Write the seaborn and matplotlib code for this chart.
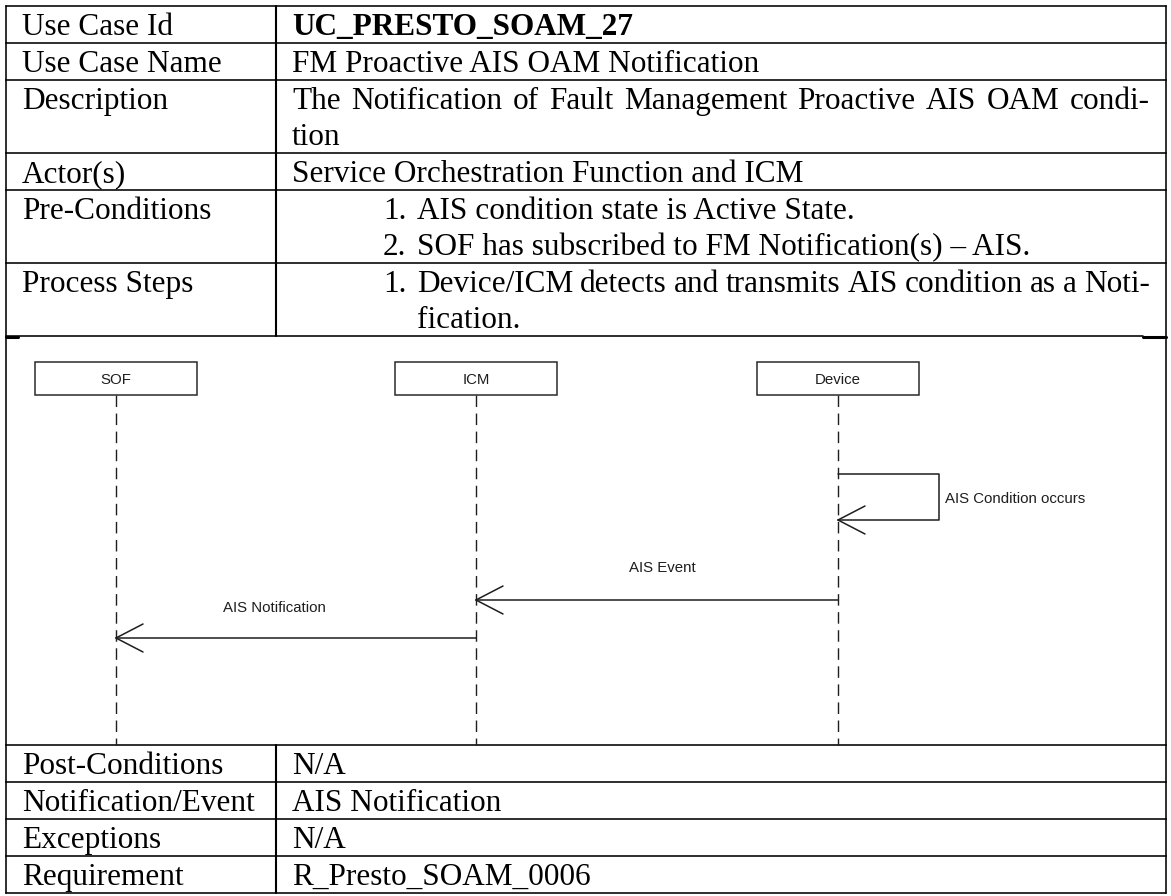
import matplotlib
matplotlib.use("Agg")
import matplotlib.pyplot as plt
import seaborn as sns
import pandas as pd

# ---------------- data ----------------
top_labels = ["Use Case Id", "Use Case Name", "Description", "Actor(s)",
              "Pre-Conditions", "Process Steps"]
use_case_id = "UC_PRESTO_SOAM_27"
use_case_name = "FM Proactive AIS OAM Notification"
description = ["The Notification of Fault Management Proactive AIS OAM condi-", "tion"]
actors = "Service Orchestration Function and ICM"
pre_conditions = ["AIS condition state is Active State.",
                  "SOF has subscribed to FM Notification(s) \u2013 AIS."]
process_steps = ["Device/ICM detects and transmits AIS condition as a Noti-", "fication."]

bottom_labels = ["Post-Conditions", "Notification/Event", "Exceptions", "Requirement"]
bottom_values = ["N/A", "AIS Notification", "N/A", "R_Presto_SOAM_0006"]

participants = ["SOF", "ICM", "Device"]
msg_from = ["Device", "Device", "ICM"]
msg_to = ["Device", "ICM", "SOF"]
msg_labels = ["AIS Condition occurs", "AIS Event", "AIS Notification"]

# ---------------- layout ----------------
W, H = 1171, 896
X_L, X_DIV, X_R = 6, 276, 1166
TOP_ROWS = [6, 43, 80, 153, 190, 263, 336]
BOT_ROWS = [745, 782, 819, 856, 893]
LINE_H = 36
BASE_OFF = 29
X_LAB, X_VAL, X_NUM, X_LIST = 22, 292, 383, 417
X_JUST_END = 1150
FS = 22.5

PX = {"SOF": 116, "ICM": 476, "Device": 838}
BOX_W, BOX_TOP, BOX_BOT = 162, 362, 395
LIFE_END = 745
MSG_Y = [474, 600, 638]          # self-loop top, event, notification
LOOP_BOT, LOOP_R = 520, 939
LABEL_POS = [(945, 499), (662, 568), (274, 608)]
DFS = 10.8
DCOL = "#1e1e1e"

sns.set_theme(style="white")
plt.rcParams['font.family'] = ['Liberation Serif', 'DejaVu Serif']

fig = plt.figure(figsize=(W / 100, H / 100), dpi=100)
ax = fig.add_axes([0, 0, 1, 1])
ax.set_xlim(0, W)
ax.set_ylim(H, 0)
ax.axis('off')
renderer = fig.canvas.get_renderer()


def tw(s, **kw):
    t = ax.text(0, 0, s, fontsize=FS, **kw)
    w = t.get_window_extent(renderer).width
    t.remove()
    return w


def put(x, y, s, **kw):
    ax.text(x, y, s, fontsize=FS, va='baseline', ha='left', color='black', **kw)


def justified(s, x0, x1, y):
    words = s.split(' ')
    widths = [tw(w) for w in words]
    gap = (x1 - x0 - sum(widths)) / (len(words) - 1)
    x = x0
    for w, wd in zip(words, widths):
        put(x, y, w)
        x += wd + gap


# ---------------- table grid ----------------
LW = 1.15
for y in TOP_ROWS[:-1] + BOT_ROWS:
    ax.plot([X_L, X_R], [y, y], color='black', lw=LW, solid_capstyle='projecting')
ax.plot([X_L, 1143], [TOP_ROWS[-1], TOP_ROWS[-1]], color='black', lw=LW)
ax.plot([1143, X_R], [TOP_ROWS[-1] + 1.5, TOP_ROWS[-1] + 1.5], color='black', lw=2.2)
ax.plot([X_L, 18], [TOP_ROWS[-1] + 1, TOP_ROWS[-1] + 1], color='black', lw=2.2)
ax.plot([X_L, X_L], [TOP_ROWS[0], BOT_ROWS[-1]], color='black', lw=LW)
ax.plot([X_R, X_R], [TOP_ROWS[0], BOT_ROWS[-1]], color='black', lw=LW)
ax.plot([X_DIV, X_DIV], [TOP_ROWS[0], TOP_ROWS[-1]], color='black', lw=1.5)
ax.plot([X_DIV, X_DIV], [BOT_ROWS[0], BOT_ROWS[-1]], color='black', lw=1.5)

# ---------------- table text ----------------
for lab, top in zip(top_labels, TOP_ROWS[:-1]):
    put(X_LAB, top + BASE_OFF, lab)
put(X_VAL, TOP_ROWS[0] + BASE_OFF, use_case_id, fontweight='bold')
put(X_VAL, TOP_ROWS[1] + BASE_OFF, use_case_name)
justified(description[0], X_VAL, X_JUST_END, TOP_ROWS[2] + BASE_OFF)
put(X_VAL, TOP_ROWS[2] + BASE_OFF + LINE_H, description[1])
put(X_VAL, TOP_ROWS[3] + BASE_OFF, actors)
for i, item in enumerate(pre_conditions):
    y = TOP_ROWS[4] + BASE_OFF + i * LINE_H
    put(X_NUM, y, f"{i + 1}.")
    put(X_LIST, y, item)
put(X_NUM, TOP_ROWS[5] + BASE_OFF, "1.")
justified(process_steps[0], X_LIST, X_JUST_END, TOP_ROWS[5] + BASE_OFF)
put(X_LIST, TOP_ROWS[5] + BASE_OFF + LINE_H, process_steps[1])

for lab, val, top in zip(bottom_labels, bottom_values, BOT_ROWS[:-1]):
    put(X_LAB, top + BASE_OFF, lab)
    put(X_VAL, top + BASE_OFF, val)

# ---------------- sequence diagram ----------------
dash = (0, (8.3, 4.7))
for p in participants:
    x = PX[p]
    life = pd.DataFrame({"x": [x, x], "y": [BOX_BOT, LIFE_END]})
    sns.lineplot(data=life, x="x", y="y", ax=ax, sort=False, estimator=None,
                 color=DCOL, lw=1.0, linestyle=dash)
    ax.add_patch(plt.Rectangle((x - BOX_W / 2, BOX_TOP), BOX_W, BOX_BOT - BOX_TOP,
                               facecolor='white', edgecolor='#2a2a2a', lw=1.1, zorder=3))
    ax.text(x, (BOX_TOP + BOX_BOT) / 2 + 1, p, fontsize=DFS, ha='center', va='center',
            color=DCOL, family=['Liberation Sans', 'DejaVu Sans'], zorder=4)


def arrowhead(xt, yt, direction):
    # open V arrowhead pointing in direction (-1 = left)
    L, S = 27, 14
    for s in (-1, 1):
        seg = pd.DataFrame({"x": [xt, xt - direction * L], "y": [yt, yt + s * S]})
        sns.lineplot(data=seg, x="x", y="y", ax=ax, sort=False, estimator=None,
                     color=DCOL, lw=1.1)


for i, (a, b, lab) in enumerate(zip(msg_from, msg_to, msg_labels)):
    xa, xb = PX[a], PX[b]
    if a == b:
        loop = pd.DataFrame({"x": [xa, LOOP_R, LOOP_R, xa],
                             "y": [MSG_Y[i], MSG_Y[i], LOOP_BOT, LOOP_BOT]})
        sns.lineplot(data=loop, x="x", y="y", ax=ax, sort=False, estimator=None,
                     color=DCOL, lw=1.1)
        arrowhead(xa, LOOP_BOT, -1)
    else:
        seg = pd.DataFrame({"x": [xa, xb], "y": [MSG_Y[i], MSG_Y[i]]})
        sns.lineplot(data=seg, x="x", y="y", ax=ax, sort=False, estimator=None,
                     color=DCOL, lw=1.1)
        arrowhead(xb, MSG_Y[i], -1 if xb < xa else 1)
    lx, ly = LABEL_POS[i]
    ax.text(lx, ly, lab, fontsize=DFS, ha='left' if a == b else 'center', va='center',
            color=DCOL, family=['Liberation Sans', 'DejaVu Sans'])

ax.set_xlim(0, W)
ax.set_ylim(H, 0)
ax.axis('off')
fig.savefig("out.png", dpi=100, facecolor='white')
